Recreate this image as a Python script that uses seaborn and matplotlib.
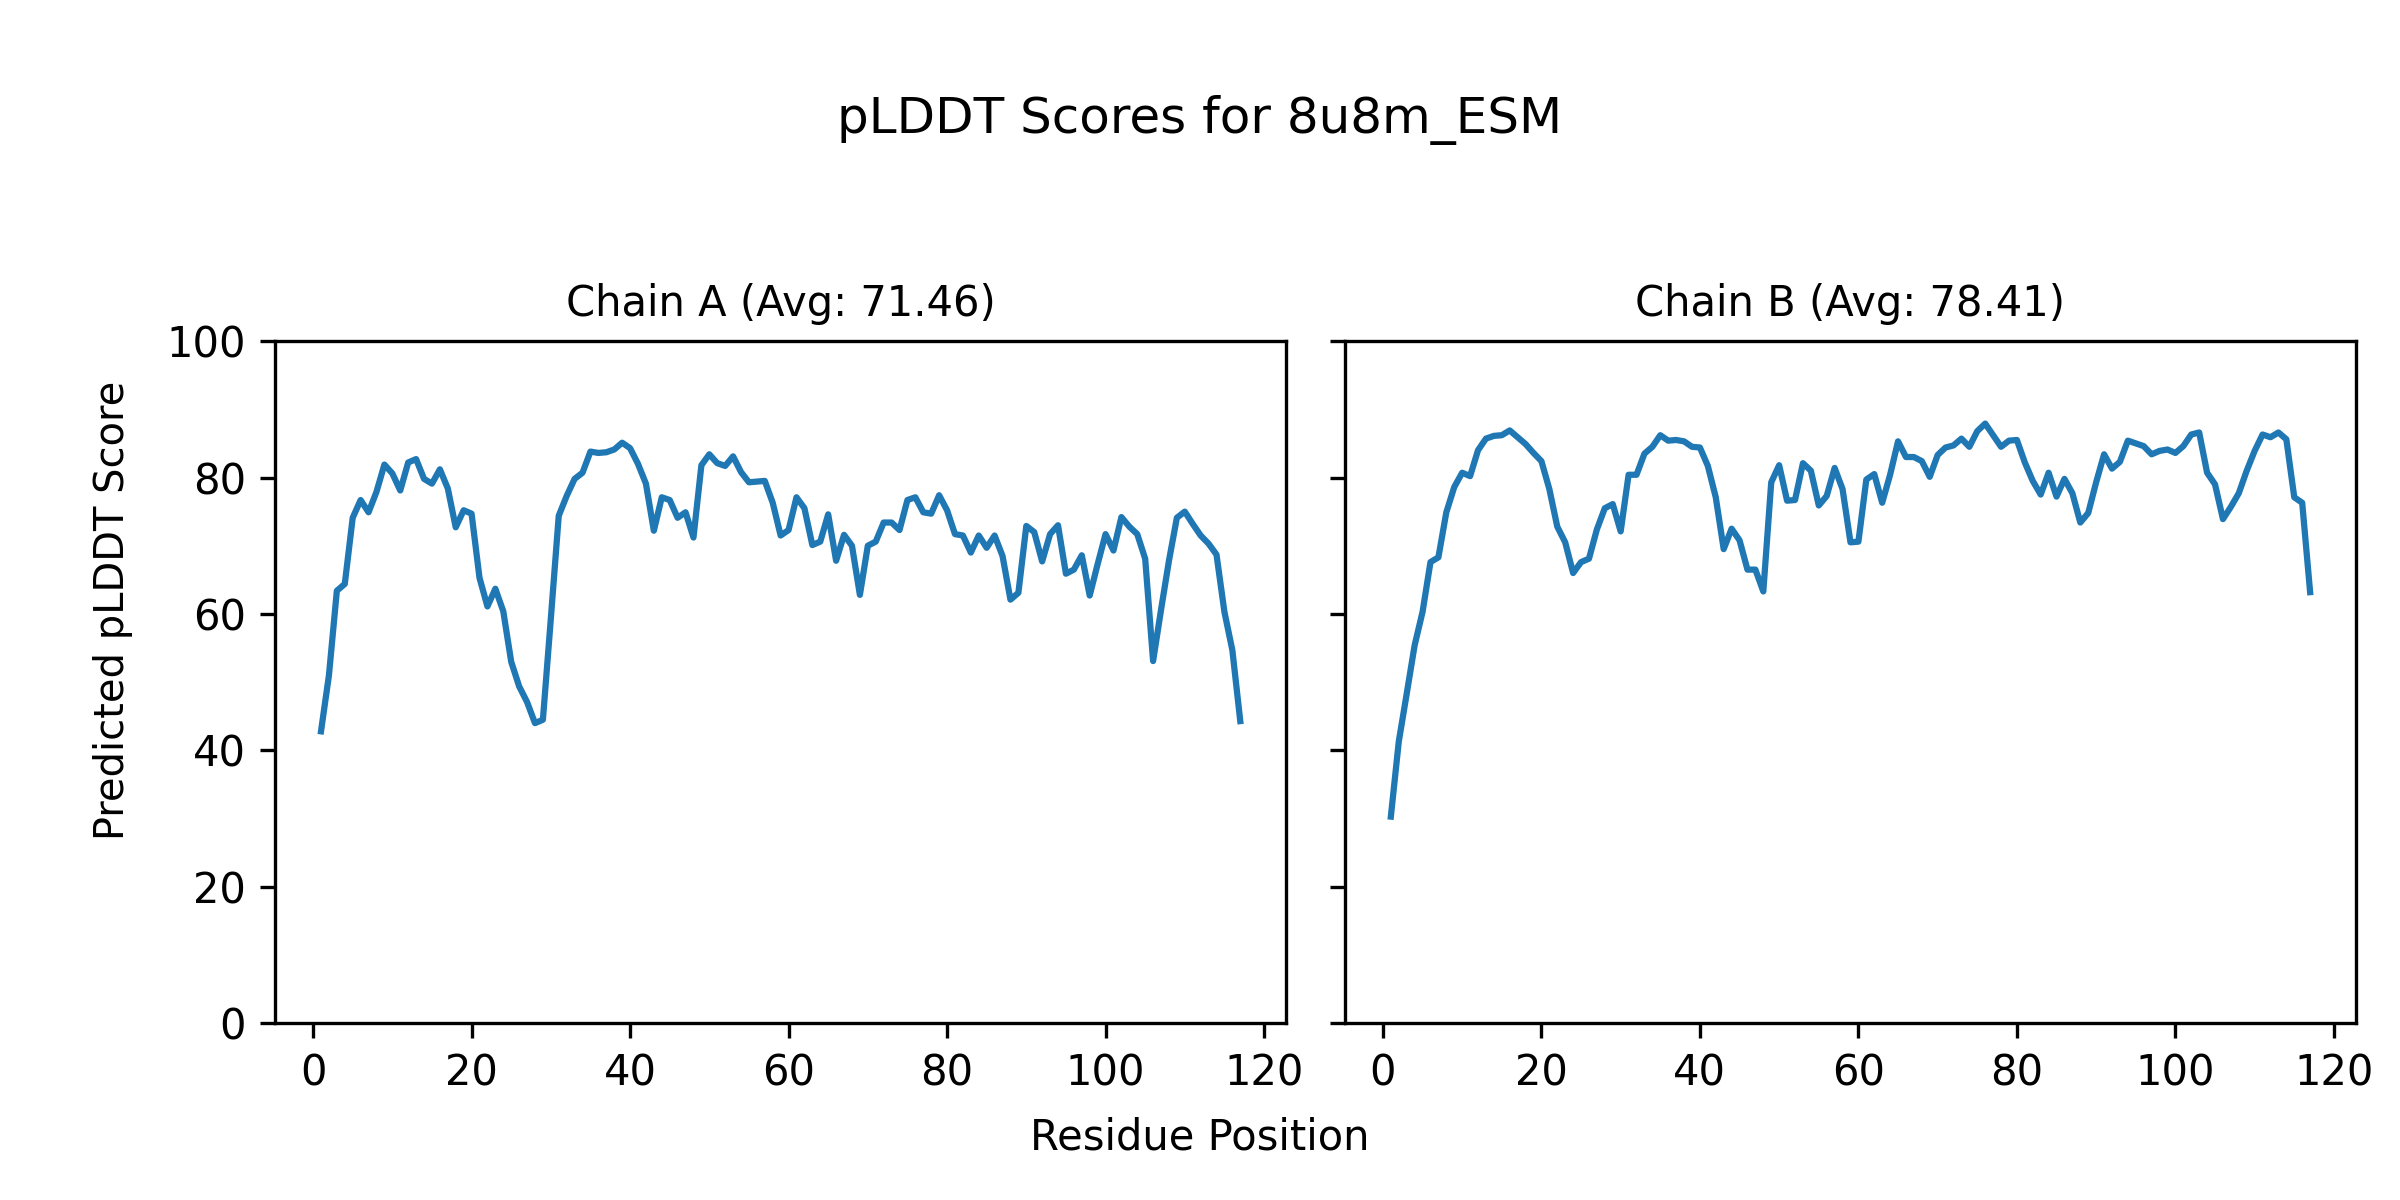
import numpy as np
import pandas as pd
import seaborn as sns
import matplotlib
matplotlib.use("Agg")
import matplotlib.pyplot as plt

# pLDDT values, residues 1..117
chain_a = [42.8, 51.0, 63.4, 64.4, 74.1, 76.7, 74.9, 77.9, 81.9, 80.6,
           78.1, 82.2, 82.7, 79.8, 79.1, 81.2, 78.4, 72.7, 75.2, 74.7,
           65.3, 61.1, 63.7, 60.4, 53.0, 49.4, 47.1, 44.0, 44.5, 59.3,
           74.4, 77.3, 79.8, 80.7, 83.8, 83.6, 83.7, 84.1, 85.1, 84.3,
           82.0, 79.1, 72.2, 77.1, 76.7, 74.1, 74.9, 71.2, 81.8, 83.4,
           82.1, 81.7, 83.1, 80.8, 79.3, 79.4, 79.5, 76.3, 71.5, 72.3,
           77.1, 75.5, 70.1, 70.6, 74.6, 67.8, 71.6, 70.0, 62.8, 70.0,
           70.6, 73.4, 73.4, 72.3, 76.7, 77.1, 74.9, 74.7, 77.4, 75.2,
           71.7, 71.5, 69.0, 71.5, 69.7, 71.5, 68.5, 62.1, 63.1, 72.9,
           72.0, 67.7, 71.7, 73.0, 65.9, 66.5, 68.6, 62.7, 67.3, 71.7,
           69.3, 74.2, 72.8, 71.7, 68.1, 53.1, 60.6, 67.8, 74.1, 75.0,
           73.2, 71.5, 70.3, 68.7, 60.3, 54.7, 44.3]

chain_b = [30.3, 41.3, 48.3, 55.4, 60.3, 67.6, 68.3, 74.9, 78.6, 80.7,
           80.2, 84.0, 85.7, 86.1, 86.2, 86.9, 85.9, 84.9, 83.6, 82.4,
           78.3, 72.8, 70.5, 66.0, 67.6, 68.1, 72.4, 75.5, 76.1, 72.1,
           80.4, 80.4, 83.5, 84.5, 86.2, 85.4, 85.5, 85.3, 84.5, 84.4,
           81.7, 77.1, 69.5, 72.5, 70.8, 66.5, 66.5, 63.3, 79.3, 81.8,
           76.6, 76.7, 82.1, 81.0, 75.9, 77.3, 81.4, 78.3, 70.5, 70.6,
           79.7, 80.5, 76.3, 80.4, 85.3, 83.0, 83.0, 82.4, 80.1, 83.3,
           84.4, 84.7, 85.7, 84.5, 86.8, 87.9, 86.2, 84.5, 85.4, 85.5,
           82.2, 79.5, 77.5, 80.7, 77.2, 79.8, 77.7, 73.4, 74.8, 79.3,
           83.4, 81.3, 82.3, 85.4, 85.0, 84.6, 83.4, 83.9, 84.1, 83.6,
           84.6, 86.3, 86.6, 80.7, 79.0, 73.9, 75.7, 77.7, 81.0, 83.9,
           86.3, 85.9, 86.6, 85.6, 77.1, 76.3, 63.2]

chain_names = ["A", "B"]
chain_avgs = ["71.46", "78.41"]

df = pd.concat([
    pd.DataFrame({"Residue": np.arange(1, len(v) + 1), "pLDDT": v, "Chain": c})
    for c, v in zip(chain_names, [chain_a, chain_b])
])

fig, axes = plt.subplots(1, 2, figsize=(8, 4), dpi=300, sharey=True)
for ax, c, avg in zip(axes, chain_names, chain_avgs):
    sub = df[df["Chain"] == c]
    sns.lineplot(data=sub, x="Residue", y="pLDDT", ax=ax, color="#1f77b4", linewidth=1.5)
    ax.set_title(f"Chain {c} (Avg: {avg})", fontsize=10)
    ax.set_xlabel("")
    ax.set_ylabel("")
    ax.set_ylim(0, 100)

fig.suptitle("pLDDT Scores for 8u8m_ESM", fontsize=12, y=0.90, va="center")
fig.supxlabel("Residue Position", fontsize=10, y=0.052, va="center")
fig.supylabel("Predicted pLDDT Score", fontsize=9.6, x=0.047, y=0.491, ha="center", va="center")
fig.subplots_adjust(left=0.1146, right=0.9817, bottom=0.1472, top=0.7158, wspace=0.058)

fig.savefig("out.png", dpi=300)
